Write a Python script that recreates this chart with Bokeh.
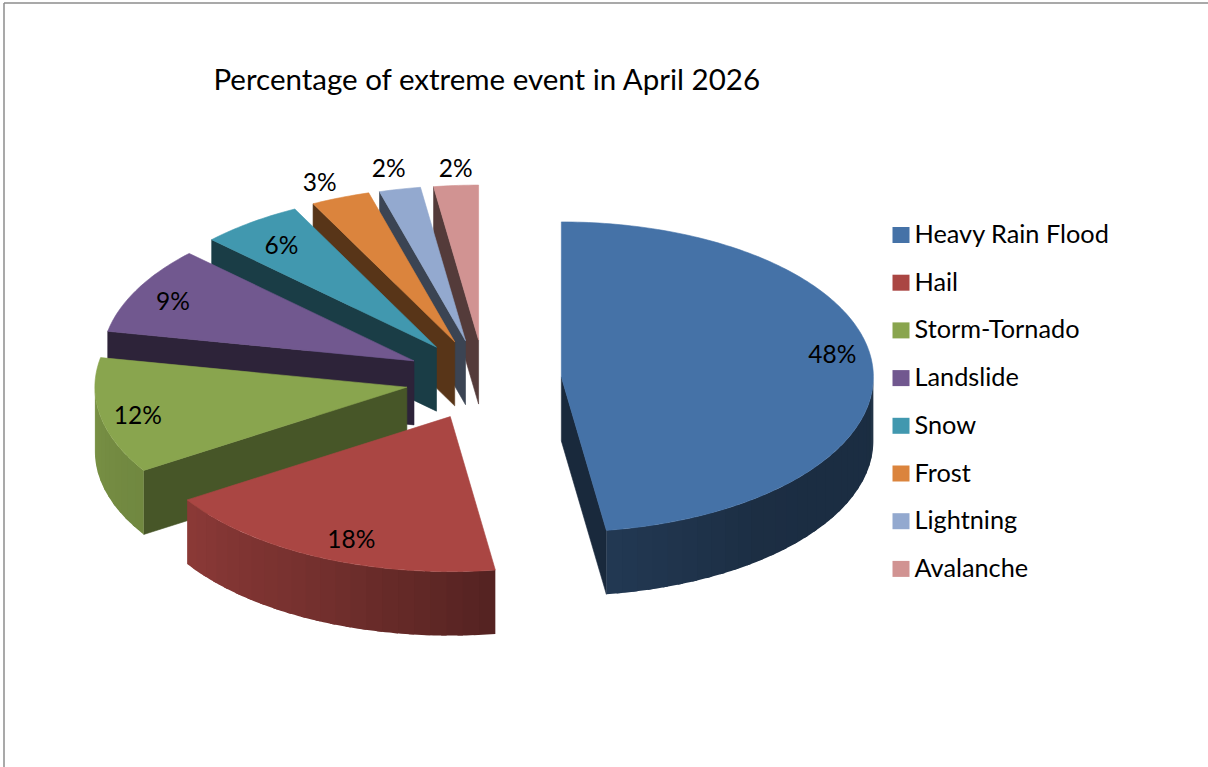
import numpy as np
from bokeh.core.properties import value
from bokeh.embed import file_html
from bokeh.models import ColumnDataSource
from bokeh.plotting import figure
from bokeh.resources import INLINE

# Chart data
title_text = "Percentage of extreme event in April 2026"
categories = ["Heavy Rain Flood", "Hail", "Storm-Tornado", "Landslide", "Snow", "Frost", "Lightning", "Avalanche"]
percentages = [48, 18, 12, 9, 6, 3, 2, 2]
colors = ["#4572A7", "#AA4643", "#89A54E", "#71588F", "#4198AF", "#DB843D", "#93A9CF", "#D19392"]

# How far each slice is pulled out of the pie, horizontally and vertically on the page
explode_x = [78, 78, 78, 78, 80, 85, 96, 78]
explode_y = [41, 41, 41, 41, 40, 40, 39.5, 39.5]

# Label placement: fraction of the radius along each slice's middle, then a vertical nudge
label_reach = [0.87, 0.745, 0.878, 0.867, 0.845, 1.277, 1.315, 1.17]
label_nudge = [-14.5, 17, 2, 1, 3.5, 25.4, 27, 8.5]

# Projection of the tilted pie, in page pixels
WIDTH, HEIGHT = 1208, 767
CX, CY = 483, 379
RX, RY = 312, 155
DEPTH = 64
FONT = value("Lato")

# Perspective: how far the pie's angles shift once it is tilted towards the viewer
PIE_ANGLES = [0, 172.8, 237.6, 280.8, 313.2, 334.8, 345.6, 352.8, 360]
SEEN_ANGLES = [0, 171.7, 237.5, 281.0, 313.9, 333.0, 344.0, 351.7, 360]


def seen(deg):
    return np.interp(deg, PIE_ANGLES, SEEN_ANGLES)


def tint(hex_color, factor):
    rgb = [int(hex_color[i:i + 2], 16) for i in (1, 3, 5)]
    return "#" + "".join(f"{int(round(c * factor)):02x}" for c in rgb)


def rim_factor(deg):
    return float(np.interp(deg, [90, 140, 172.8, 205, 238, 270], [0.39, 0.40, 0.50, 0.68, 0.82, 0.88]))


def wall_factor(deg):
    return float(np.interp(deg, [172, 237, 281, 360], [0.36, 0.52, 0.40, 0.40]))


def edge_point(ax, ay, deg):
    t = np.radians(deg)
    return ax + RX * np.sin(t), ay - RY * np.cos(t)


xs, ys, fills, outline = [], [], [], []


def add_poly(px, py, color, stroke=1.0):
    xs.append(list(map(float, px)))
    ys.append(list(map(float, py)))
    fills.append(color)
    outline.append(stroke)


# Slices are stacked back to front: the smallest at the top of the pie first
total = sum(percentages)
spans = []
start = 0.0
for pct in percentages:
    spans.append((start, start + 360.0 * pct / total))
    start = spans[-1][1]

apexes = []
for (a0, a1), pull_x, pull_y in zip(spans, explode_x, explode_y):
    mid = np.radians((a0 + a1) / 2)
    apexes.append((CX + pull_x * np.sin(mid), CY - pull_y * np.cos(mid)))

for i in range(len(percentages) - 1, -1, -1):
    a0, a1 = seen(spans[i][0]), seen(spans[i][1])
    ax, ay = apexes[i]
    base = colors[i]

    # flat side walls facing the viewer
    for deg, visible in ((a0, 180 < a0 < 360), (a1, 0 < a1 < 180)):
        if visible:
            ex, ey = edge_point(ax, ay, deg)
            add_poly([ax, ex, ex, ax], [ay, ey, ey + DEPTH, ay + DEPTH], tint(base, wall_factor(deg)))

    # curved outer rim, shaded band by band; bands overlap so no seams show
    lo, hi = max(a0, 90.0), min(a1, 270.0)
    if lo < hi:
        bands = max(1, int(np.ceil((hi - lo) / 3.0)))
        edges = np.linspace(lo, hi, bands + 1)
        for b0, b1 in zip(edges[:-1], edges[1:]):
            arc = np.linspace(b0, min(b1 + 1.0, hi), 6)
            ex, ey = edge_point(ax, ay, arc)
            add_poly(np.r_[ex, ex[::-1]], np.r_[ey, ey[::-1] + DEPTH], tint(base, rim_factor((b0 + b1) / 2)), 0.0)

    # top face
    arc = np.linspace(a0, a1, max(8, int(a1 - a0) + 2))
    ex, ey = edge_point(ax, ay, arc)
    add_poly(np.r_[ax, ex], np.r_[ay, ey], base)

p = figure(
    width=WIDTH, height=HEIGHT,
    x_range=(0, WIDTH), y_range=(HEIGHT, 0),
    output_backend="svg", toolbar_location=None,
    min_border=0, outline_line_color=None, background_fill_color="white",
    border_fill_color="white",
)
p.axis.visible = False
p.grid.visible = False

# chart frame: only the top and left edges fall inside the page
p.segment(x0=[3.5, 3.5], y0=[2.5, 2.5], x1=[WIDTH, 3.5], y1=[2.5, HEIGHT], line_color="#8c8c8c", line_width=1.5)

p.patches("xs", "ys", source=ColumnDataSource(dict(xs=xs, ys=ys, fill=fills, outline=outline)),
          fill_color="fill", line_color="fill", line_alpha="outline", line_width=0.6)

# percentage labels
lx, ly = [], []
for i, (a0, a1) in enumerate(spans):
    mid = np.radians((a0 + a1) / 2)
    ax, ay = apexes[i]
    lx.append(float(ax + label_reach[i] * RX * np.sin(mid)))
    ly.append(float(ay - label_reach[i] * RY * np.cos(mid) + label_nudge[i]))
p.text(x=lx, y=ly, text=[f"{v}%" for v in percentages], text_font=FONT, text_font_size="24.5px",
       text_color="#000000", text_align="center", text_baseline="middle")

# title
p.text(x=[487], y=[78], text=[title_text], text_font=FONT, text_font_size="29.5px",
       text_color="#000000", text_align="center", text_baseline="middle")

# legend
LEGEND_TOP, LEGEND_STEP = 234.5, 47.7
rows = [LEGEND_TOP + i * LEGEND_STEP for i in range(len(categories))]
p.quad(left=892, right=909, top=[r - 8 for r in rows], bottom=[r + 8 for r in rows],
       fill_color=colors, line_color=None)
p.text(x=914, y=[r - 2 for r in rows], text=categories, text_font=FONT, text_font_size="25.3px",
       text_color="#000000", text_align="left", text_baseline="middle")

open("out.html", "w").write(file_html(p, INLINE))
